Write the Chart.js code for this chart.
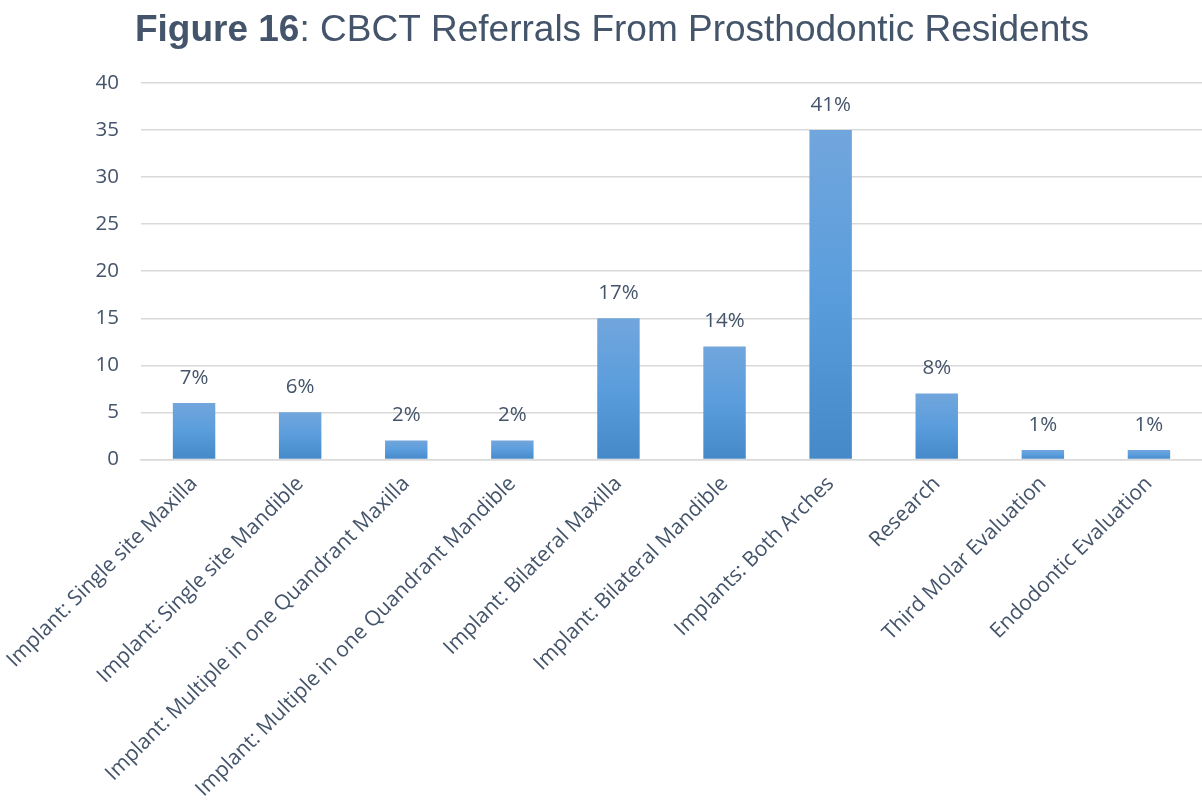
<!DOCTYPE html>
<html>
<head>
<meta charset="utf-8">
<script src="https://cdn.jsdelivr.net/npm/chart.js@4/dist/chart.umd.min.js"></script>
<style>
  html, body { margin: 0; padding: 0; background: #fff; }
  #wrap { position: relative; width: 1202px; height: 810px; }
</style>
</head>
<body>
<div id="wrap"><canvas id="referralChart"></canvas></div>
<script>
const categories = [
    'Implant: Single site Maxilla',
    'Implant: Single site Mandible',
    'Implant: Multiple in one Quandrant Maxilla',
    'Implant: Multiple in one Quandrant Mandible',
    'Implant: Bilateral Maxilla',
    'Implant: Bilateral Mandible',
    'Implants: Both Arches',
    'Research',
    'Third Molar Evaluation',
    'Endodontic Evaluation'
];
const referrals = [6, 5, 2, 2, 15, 12, 35, 7, 1, 1];
const percentLabels = ['7%', '6%', '2%', '2%', '17%', '14%', '41%', '8%', '1%', '1%'];
const yTicks = [0, 5, 10, 15, 20, 25, 30, 35, 40];

const textColor = '#44546a';
const labelFont = '"Open Sans", Lato, sans-serif';

// titulo con "Figure 16" en negrita
const titlePlugin = {
    id: 'mixedTitle',
    afterDraw(chart) {
        const ctx = chart.ctx;
        const bold = 'Figure 16';
        const rest = ': CBCT Referrals From Prosthodontic Residents';
        const fam = '"Liberation Sans", Arial, sans-serif';
        ctx.save();
        ctx.textBaseline = 'middle';
        ctx.fillStyle = textColor;
        ctx.font = 'bold 37px ' + fam;
        const w1 = ctx.measureText(bold).width;
        ctx.font = '37px ' + fam;
        const w2 = ctx.measureText(rest).width;
        const x = 612 - (w1 + w2) / 2;
        ctx.font = 'bold 37px ' + fam;
        ctx.fillText(bold, x, 31);
        ctx.font = '37px ' + fam;
        ctx.fillText(rest, x + w1, 31);
        ctx.restore();
    }
};

// etiquetas de porcentaje encima de cada barra
const percentPlugin = {
    id: 'percentLabels',
    afterDatasetsDraw(chart) {
        const ctx = chart.ctx;
        const meta = chart.getDatasetMeta(0);
        ctx.save();
        ctx.fillStyle = textColor;
        ctx.font = '20.5px ' + labelFont;
        ctx.textAlign = 'center';
        ctx.textBaseline = 'middle';
        meta.data.forEach((bar, i) => {
            ctx.fillText(percentLabels[i], bar.x, bar.y - 25);
        });
        ctx.restore();
    }
};

function barGradient(context) {
    const chart = context.chart;
    if (!chart.chartArea || !chart.scales.y) return '#5b9bd5';
    const y = chart.scales.y;
    const top = y.getPixelForValue(context.raw);
    const bottom = y.getPixelForValue(0);
    if (!isFinite(top) || top === bottom) return '#5b9bd5';
    const g = chart.ctx.createLinearGradient(0, top, 0, bottom);
    g.addColorStop(0, '#71a6dc');
    g.addColorStop(0.5, '#5a9ddd');
    g.addColorStop(1, '#4589c8');
    return g;
}

const ctx = document.getElementById('referralChart').getContext('2d');
const referralChart = new Chart(ctx, {
    type: 'bar',
    data: {
        labels: categories,
        datasets: [{
            label: 'Referrals',
            data: referrals,
            backgroundColor: barGradient,
            borderWidth: 0,
            barPercentage: 0.8,
            categoryPercentage: 0.5
        }]
    },
    options: {
        responsive: true,
        maintainAspectRatio: false,
        animation: false,
        layout: { padding: { top: 83, left: 67, right: 0, bottom: 4 } },
        plugins: {
            legend: { display: false },
            tooltip: { enabled: false }
        },
        scales: {
            x: {
                grid: { display: false },
                border: { display: true, color: '#d9d9d9', width: 1.5 },
                ticks: {
                    color: textColor,
                    font: { size: 21, family: labelFont },
                    minRotation: 45,
                    maxRotation: 45,
                    autoSkip: false,
                    padding: 4
                }
            },
            y: {
                min: 0,
                max: 40,
                afterBuildTicks(scale) {
                    scale.ticks = yTicks.map(v => ({ value: v }));
                },
                grid: { color: '#d9d9d9', lineWidth: 1.5, drawTicks: false },
                border: { display: false },
                ticks: {
                    color: textColor,
                    font: { size: 20.5, family: labelFont },
                    padding: 22
                }
            }
        }
    },
    plugins: [titlePlugin, percentPlugin]
});
</script>
</body>
</html>
